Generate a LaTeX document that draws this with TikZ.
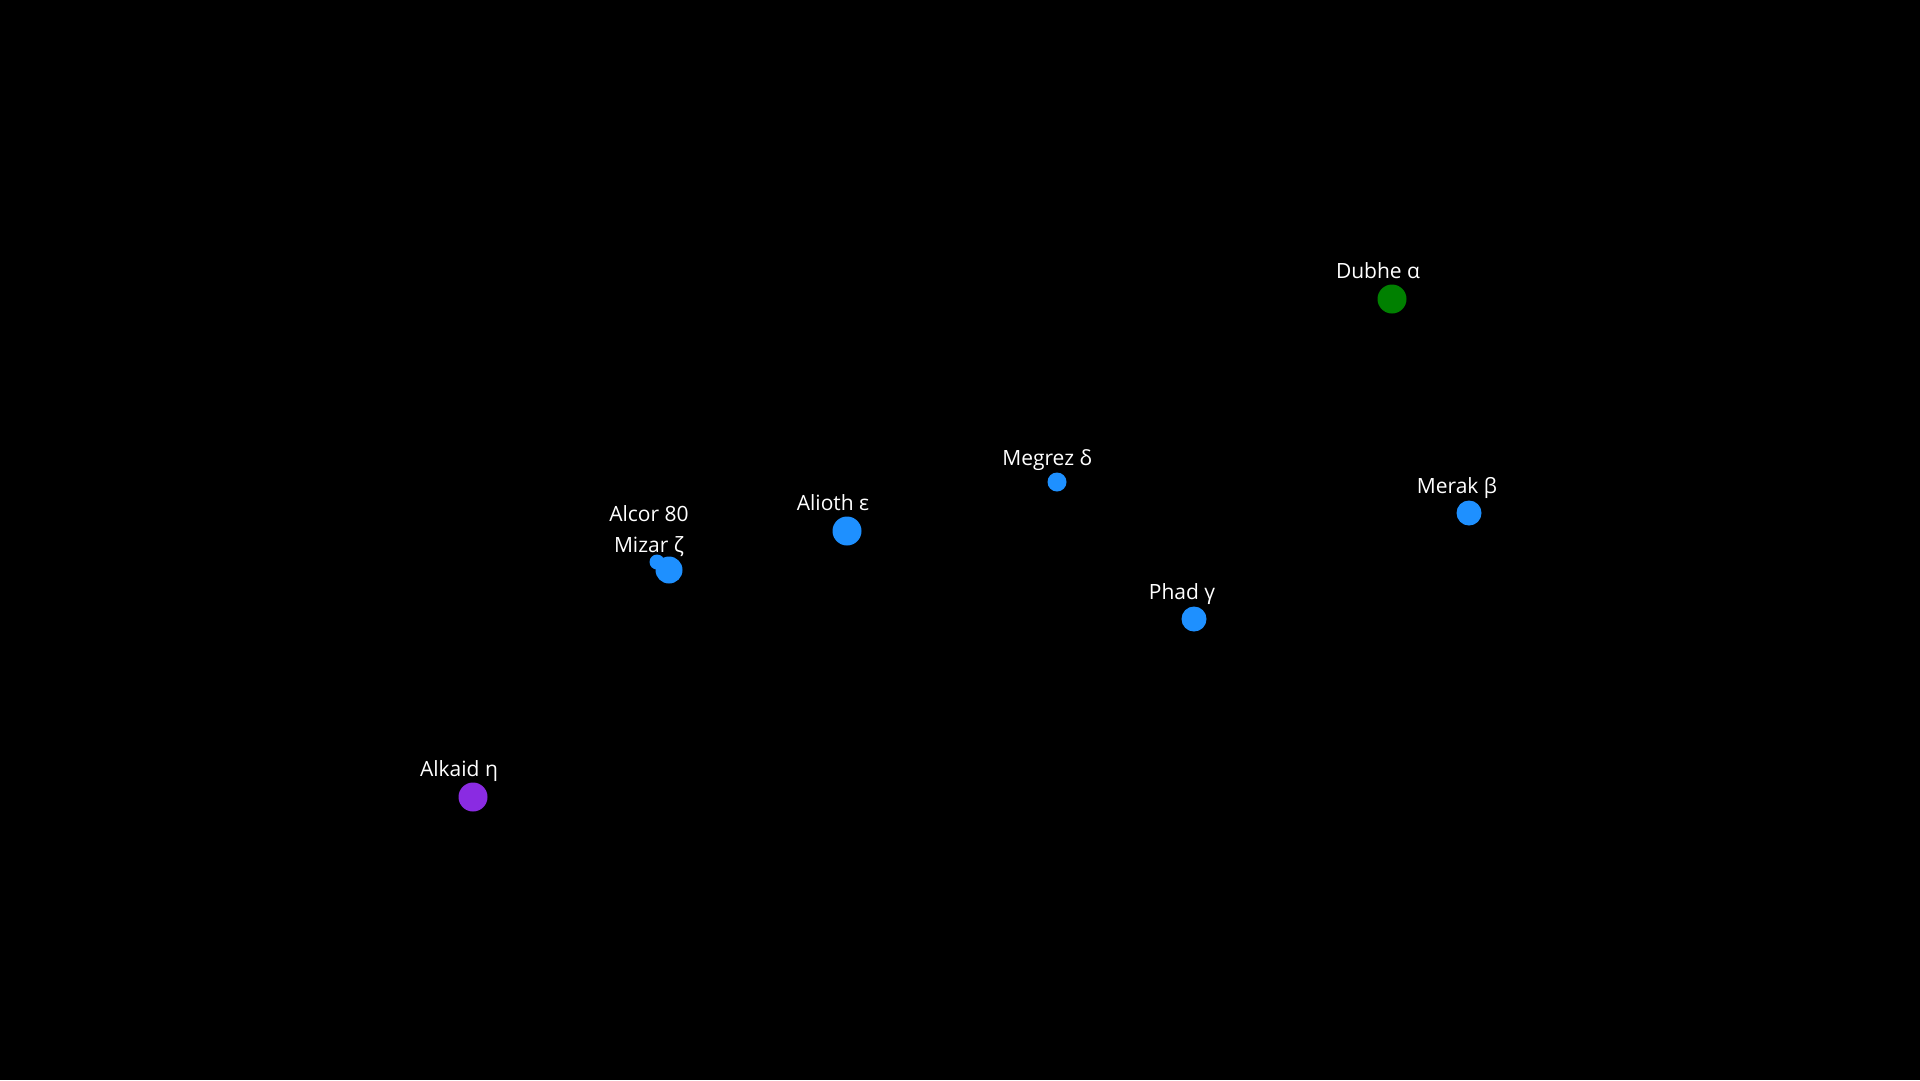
\documentclass[tikz,border=0pt]{standalone}
\usepackage{fontspec}
\setmainfont{Open Sans}
\definecolor{starblue}{RGB}{30,144,255}
\definecolor{stargreen}{RGB}{0,128,0}
\definecolor{starviolet}{RGB}{138,43,226}
\tikzset{
  starpt/.style={circle, fill=#1, draw=none, inner sep=0pt},
  starname/.style={text=white, anchor=base, inner sep=0pt, font=\fontsize{21}{25}\selectfont},
}

\begin{document}
\begin{tikzpicture}[x=1pt, y=-1pt]
  \fill[black] (0,0) rectangle (1920,1080);
  \node[starpt=stargreen, minimum size=29pt] (dubhe) at (1392,299) {};
  \node[starpt=starblue, minimum size=25pt] (merak) at (1469,513) {};
  \node[starpt=starblue, minimum size=25pt] (phad) at (1194,619) {};
  \node[starpt=starblue, minimum size=19pt] (megrez) at (1057,482) {};
  \node[starpt=starblue, minimum size=29pt] (alioth) at (847,531) {};
  \node[starpt=starblue, minimum size=15pt] (alcor) at (657,562) {};
  \node[starpt=starblue, minimum size=27pt] (mizar) at (669,570) {};
  \node[starpt=starviolet, minimum size=29pt] (alkaid) at (473,797) {};
  \node[starname] (dubhelbl) at (1378,278) {Dubhe α};
  \node[starname] (meraklbl) at (1457,493) {Merak β};
  \node[starname] (phadlbl) at (1182,599) {Phad γ};
  \node[starname] (megrezlbl) at (1047,465) {Megrez δ};
  \node[starname] (aliothlbl) at (833,510) {Alioth ε};
  \node[starname] (alcorlbl) at (649,521) {Alcor 80};
  \node[starname] (mizarlbl) at (649,552) {Mizar ζ};
  \node[starname] (alkaidlbl) at (459,776) {Alkaid η};
\end{tikzpicture}
\end{document}
